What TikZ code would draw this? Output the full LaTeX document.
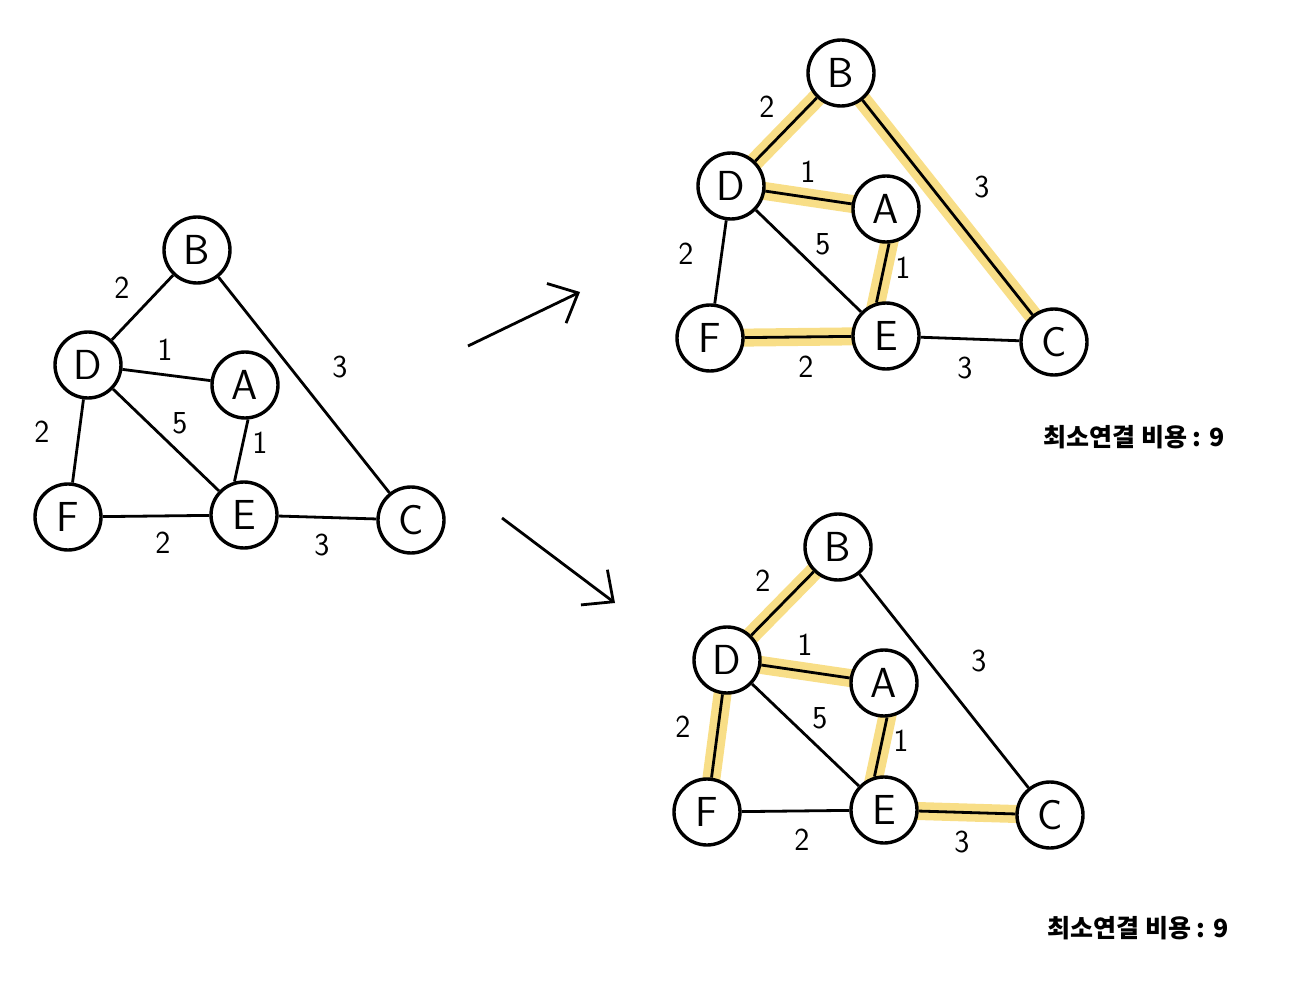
\documentclass[tikz,border=0pt]{standalone}
\usepackage{fontspec}
\newfontfamily\kofont{Noto Sans CJK KR}
\usetikzlibrary{arrows.meta,backgrounds}
\definecolor{markyellow}{RGB}{248,222,135}

\begin{document}
\begin{tikzpicture}[x=0.5pt,y=-0.5pt,line width=1.4pt,>={Straight Barb[length=12pt,width=22pt]},
  vertex/.style={circle,draw,line width=1.7pt,fill=white,minimum size=33pt,inner sep=0pt,font=\sffamily\fontsize{21}{21}\selectfont},
  weight/.style={font=\sffamily\fontsize{16}{16}\selectfont},
  picked/.style={markyellow,line width=9pt,line cap=round,shorten <=-3pt,shorten >=-3pt}]
\useasboundingbox (0,0) rectangle (1297,1000);
% original graph
\node[vertex] (lB) at (197,250) {B};
\node[vertex] (lD) at (88,365) {D};
\node[vertex] (lA) at (245,385) {A};
\node[vertex] (lF) at (68,517) {F};
\node[vertex] (lE) at (244,515) {E};
\node[vertex] (lC) at (411,520) {C};
\draw (lD) -- (lB);
\draw (lD) -- (lA);
\draw (lD) -- (lE);
\draw (lD) -- (lF);
\draw (lA.-85) -- (lE.106);
\draw (lF) -- (lE);
\draw (lE) -- (lC);
\draw (lB) -- (lC);
\node[weight] (lwDB) at (122,288) {2};
\node[weight] (lwDA) at (165,350) {1};
\node[weight] (lwDE) at (180,423) {5};
\node[weight] (lwAE) at (260,443) {1};
\node[weight] (lwDF) at (42,432) {2};
\node[weight] (lwFE) at (163,543) {2};
\node[weight] (lwEC) at (322,545) {3};
\node[weight] (lwBC) at (340,367) {3};
% arrows
\coordinate (upS) at (468,346);
\coordinate (upT) at (580,292);
\coordinate (dnS) at (502,518);
\coordinate (dnT) at (615,603);
\draw[->] (upS) -- (upT);
\draw[->] (dnS) -- (dnT);
% first tree
\node[vertex] (tB) at (841,73) {B};
\node[vertex] (tD) at (731,186) {D};
\node[vertex] (tA) at (886,209) {A};
\node[vertex] (tF) at (710,338) {F};
\node[vertex] (tE) at (886,336) {E};
\node[vertex] (tC) at (1054,342) {C};
\begin{scope}[on background layer]
\draw[picked] (tD) -- (tB);
\draw[picked] (tD) -- (tA);
\draw[picked] (tA.-85) -- (tE.106);
\draw[picked] (tF) -- (tE);
\draw[picked] (tB) -- (tC);
\end{scope}
\draw (tD) -- (tB);
\draw (tD) -- (tA);
\draw (tD) -- (tE);
\draw (tD) -- (tF);
\draw (tA.-85) -- (tE.106);
\draw (tF) -- (tE);
\draw (tE) -- (tC);
\draw (tB) -- (tC);
\node[weight] (twDB) at (767,107) {2};
\node[weight] (twDA) at (808,172) {1};
\node[weight] (twDE) at (823,244) {5};
\node[weight] (twAE) at (903,268) {1};
\node[weight] (twDF) at (686,254) {2};
\node[weight] (twFE) at (806,367) {2};
\node[weight] (twEC) at (965,368) {3};
\node[weight] (twBC) at (982,187) {3};
\node[font=\kofont\bfseries\fontsize{12.5}{12.5}\selectfont] (tcost) at (1134,437) {최소연결 비용 : 9};
% second tree
\node[vertex] (bB) at (838,547) {B};
\node[vertex] (bD) at (727,660) {D};
\node[vertex] (bA) at (884,683) {A};
\node[vertex] (bF) at (707,812) {F};
\node[vertex] (bE) at (884,810) {E};
\node[vertex] (bC) at (1050,815) {C};
\begin{scope}[on background layer]
\draw[picked] (bD) -- (bB);
\draw[picked] (bD) -- (bA);
\draw[picked] (bA.-85) -- (bE.106);
\draw[picked] (bD) -- (bF);
\draw[picked] (bE) -- (bC);
\end{scope}
\draw (bD) -- (bB);
\draw (bD) -- (bA);
\draw (bD) -- (bE);
\draw (bD) -- (bF);
\draw (bA.-85) -- (bE.106);
\draw (bF) -- (bE);
\draw (bE) -- (bC);
\draw (bB) -- (bC);
\node[weight] (bwDB) at (763,581) {2};
\node[weight] (bwDA) at (805,645) {1};
\node[weight] (bwDE) at (820,718) {5};
\node[weight] (bwAE) at (901,741) {1};
\node[weight] (bwDF) at (683,727) {2};
\node[weight] (bwFE) at (802,840) {2};
\node[weight] (bwEC) at (962,842) {3};
\node[weight] (bwBC) at (979,661) {3};
\node[font=\kofont\bfseries\fontsize{12.5}{12.5}\selectfont] (bcost) at (1138,928) {최소연결 비용 : 9};
\end{tikzpicture}
\end{document}
